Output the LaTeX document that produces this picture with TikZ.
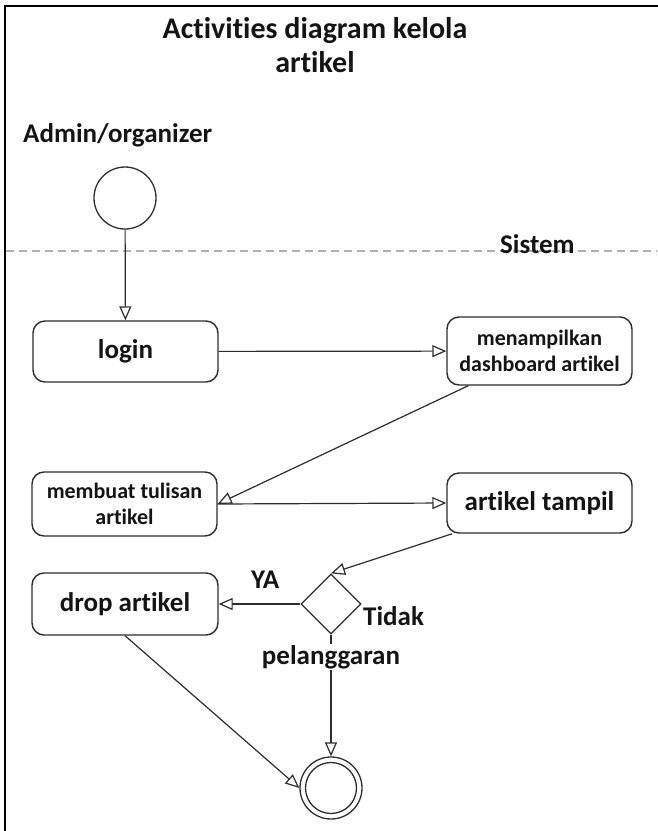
\documentclass[tikz,border=0pt]{standalone}
\usepackage{fontspec}
\setmainfont{Carlito}[RawFeature={-liga;-clig;-dlig}]
\usetikzlibrary{arrows.meta,shapes.geometric}
\definecolor{linec}{RGB}{45,45,45}
\definecolor{txtc}{RGB}{20,20,20}
\definecolor{dashc}{RGB}{175,175,175}
\begin{document}
\begin{tikzpicture}[x=1pt,y=-1pt,
  box/.style={draw=linec, line width=1.4pt, rounded corners=12pt, fill=white, align=center, inner sep=0pt, text=txtc, font=\bfseries\fontsize{27}{32}\selectfont},
  smallbox/.style={box, font=\bfseries\fontsize{22}{26.5}\selectfont},
  flow/.style={draw=linec, line width=1.2pt, -{Triangle[open,length=14pt,width=12pt]}},
  lbl/.style={inner sep=0pt, text=txtc, font=\bfseries\fontsize{27}{32}\selectfont},
  startnode/.style={draw=linec, line width=1.3pt, circle, minimum size=62pt, inner sep=0pt},
]
\useasboundingbox (0,0) rectangle (657,831);
\fill[white] (0,0) rectangle (657,831);
% frame
\draw[black, line width=2pt] (5,832) -- (5,6) -- (658,6);
% swimlane separator
\draw[dashc, line width=1.2pt, dash pattern=on 8pt off 5pt] (6,251) -- (657,251);

% texts
\node[lbl, font=\bfseries\fontsize{30}{36}\selectfont, anchor=base] (title1) at (315,38) {Activities diagram kelola};
\node[lbl, font=\bfseries\fontsize{30}{36}\selectfont, anchor=base] (title2) at (315,72) {artikel};
\node[lbl, anchor=base west] (admin) at (23,142) {Admin/organizer};
\node[lbl, anchor=base west] (sistem) at (500,253) {Sistem};

% nodes
\node[startnode] (start) at (125,198) {};
\node[box, minimum width=185pt, minimum height=61pt] (login) at (125.5,351.5) {login};
\node[smallbox, minimum width=185pt, minimum height=68pt] (menam) at (539.5,351) {menampilkan\\dashboard artikel};
\node[smallbox, minimum width=185pt, minimum height=64pt] (memb) at (124.5,504) {membuat tulisan\\artikel};
\node[box, minimum width=185pt, minimum height=60pt] (tampil) at (539.5,503) {artikel tampil};
\node[box, minimum width=186pt, minimum height=62pt] (drop) at (125,604) {drop artikel};
\node[draw=linec, line width=1.3pt, diamond, minimum width=60pt, minimum height=60pt, inner sep=0pt] (dia) at (331,604) {};
\node[startnode] (endo) at (331,788) {};
\node[draw=linec, line width=1.3pt, circle, minimum size=51pt, inner sep=0pt] (endi) at (331,788) {};

% connectors
\draw[flow] (start) -- (login);
\draw[flow] (login) -- (menam);
\coordinate (mfrom) at ([xshift=22pt]menam.south west);
\draw[flow] (mfrom) -- (memb.east);
\draw[flow] (memb.east) -- (tampil.west);
\coordinate (tfrom) at ([xshift=6pt]tampil.south west);
\draw[flow] (tfrom) -- (dia.north);
\draw[flow] (dia.west) -- (drop.east);
\draw[flow] (dia.south) -- (endo.north);
\draw[flow] (drop.south) -- (endo.west);

% branch labels
\node[lbl, anchor=base west] (ya) at (251,588) {YA};
\node[lbl, anchor=base west] (tidak) at (363,625) {Tidak};
\node[lbl, anchor=base, fill=white, inner ysep=1pt] (pel) at (331,664) {pelanggaran};
\end{tikzpicture}
\end{document}
